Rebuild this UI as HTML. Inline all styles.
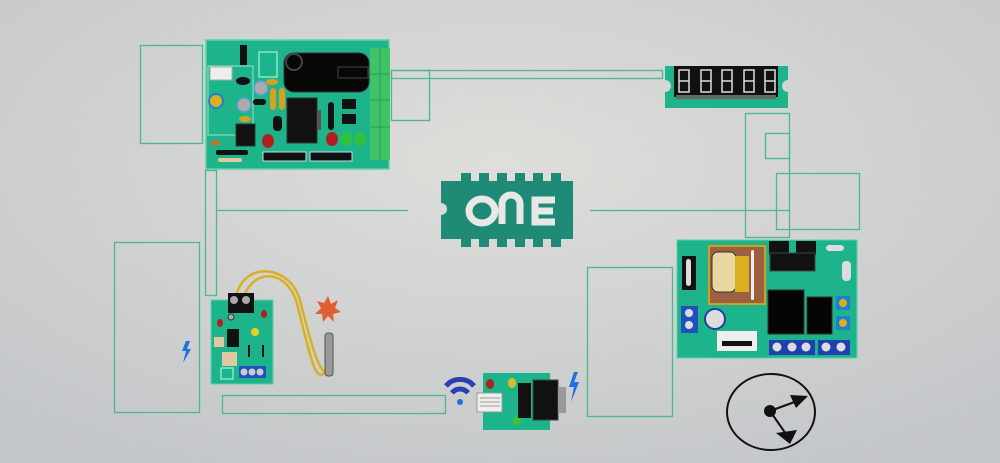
<!DOCTYPE html>
<html><head><meta charset="utf-8"><style>
html,body{margin:0;padding:0;width:1000px;height:463px;overflow:hidden}
svg{display:block}
</style></head><body>
<svg width="1000" height="463" viewBox="0 0 1000 463" xmlns="http://www.w3.org/2000/svg">
<defs>
<radialGradient id="bg" cx="0.5" cy="0.35" r="0.75">
<stop offset="0" stop-color="#dededa"/><stop offset="1" stop-color="#c3c6c9"/>
</radialGradient>
</defs>
<rect width="1000" height="463" fill="url(#bg)"/>
<g fill="none" stroke="#4cb890" stroke-width="1.3">
<rect x="140.5" y="45.5" width="62" height="98"/>
<rect x="391.5" y="70.5" width="271" height="8"/>
<rect x="391.5" y="70.5" width="38" height="50"/>
<rect x="205.5" y="170.5" width="11" height="125"/>
<line x1="216" y1="210.5" x2="408" y2="210.5"/>
<line x1="590" y1="210.5" x2="790" y2="210.5"/>
<rect x="745.5" y="113.5" width="44" height="124"/>
<rect x="765.5" y="133.5" width="24" height="25"/>
<rect x="776.5" y="173.5" width="83" height="56"/>
<rect x="114.5" y="242.5" width="85" height="170"/>
<rect x="222.5" y="395.5" width="223" height="18"/>
<rect x="587.5" y="267.5" width="85" height="149"/>
</g>

<!-- Board 1 -->
<rect x="206" y="40" width="183" height="129" fill="#1db48c" stroke="#5fd0ac" stroke-width="1.5"/>
<rect x="370" y="48" width="20" height="112" fill="#3fc26a"/>
<g stroke="#2aa050" stroke-width="1"><line x1="380" y1="48" x2="380" y2="160"/><line x1="370" y1="74" x2="390" y2="74"/><line x1="370" y1="100" x2="390" y2="100"/><line x1="370" y1="127" x2="390" y2="127"/></g>
<rect x="284" y="53" width="85" height="39" rx="10" fill="#070707" stroke="#333"/>
<circle cx="294" cy="62" r="8" fill="none" stroke="#444" stroke-width="2"/>
<rect x="338" y="67" width="30" height="11" fill="none" stroke="#444"/>
<rect x="240" y="45" width="7" height="20" fill="#111"/>
<rect x="259" y="52" width="18" height="25" fill="none" stroke="#bfe"/>
<rect x="208" y="66" width="45" height="69" fill="none" stroke="#9de0c8"/>
<rect x="210" y="67" width="22" height="13" fill="#eee" stroke="#aaa"/>
<ellipse cx="243" cy="81" rx="7" ry="4" fill="#111"/>
<circle cx="216" cy="101" r="7" fill="#d8b020" stroke="#2080d0" stroke-width="2"/>
<circle cx="261" cy="88" r="7" fill="#aaa" stroke="#50a0d0" stroke-width="1.5"/>
<circle cx="244" cy="105" r="7" fill="#aaa" stroke="#50a0d0" stroke-width="1.5"/>
<ellipse cx="272" cy="82" rx="6" ry="3" fill="#d8a020"/>
<ellipse cx="245" cy="119" rx="6" ry="3" fill="#d8a020"/>
<rect x="253" y="99" width="13" height="6" rx="3" fill="#111"/>
<rect x="270" y="88" width="6" height="22" rx="3" fill="#d8a020"/><rect x="279" y="88" width="6" height="22" rx="3" fill="#d8a020"/>
<rect x="236" y="124" width="19" height="22" fill="#111" stroke="#333"/>
<rect x="273" y="116" width="9" height="15" rx="4" fill="#111"/>
<rect x="287" y="98" width="30" height="45" fill="#111" stroke="#333"/>
<rect x="317" y="110" width="4" height="20" fill="#555"/>
<rect x="328" y="102" width="6" height="28" rx="3" fill="#111"/>
<rect x="342" y="99" width="14" height="10" fill="#111"/><rect x="342" y="114" width="14" height="10" fill="#111"/>
<ellipse cx="268" cy="141" rx="6" ry="7" fill="#b02020"/>
<ellipse cx="332" cy="139" rx="6" ry="7" fill="#b02020"/>
<ellipse cx="346" cy="139" rx="6" ry="7" fill="#30c040"/><ellipse cx="360" cy="139" rx="6" ry="7" fill="#30c040"/>
<rect x="211" y="141" width="9" height="4" fill="#d07020"/>
<rect x="216" y="150" width="32" height="5" rx="2" fill="#111"/>
<rect x="218" y="158" width="24" height="4" rx="2" fill="#e0c8a0"/>
<rect x="263" y="152" width="43" height="9" fill="#111" stroke="#cde"/>
<rect x="310" y="152" width="42" height="9" fill="#111" stroke="#cde"/>

<!-- 7 segment -->
<path d="M665 66 H788 V80 A6 6 0 0 0 788 92 V108 H665 V92 A6 6 0 0 0 665 80 Z" fill="#1db48c"/>
<rect x="674" y="66" width="104" height="31" fill="#111"/>
<rect x="676" y="95" width="100" height="4" fill="#666"/>
<g fill="none" stroke="#ddd" stroke-width="1.5">
<rect x="679" y="70" width="10" height="22"/><line x1="679" y1="81" x2="689" y2="81"/>
<rect x="701" y="70" width="10" height="22"/><line x1="701" y1="81" x2="711" y2="81"/>
<rect x="722" y="70" width="10" height="22"/><line x1="722" y1="81" x2="732" y2="81"/>
<rect x="744" y="70" width="10" height="22"/><line x1="744" y1="81" x2="754" y2="81"/>
<rect x="765" y="70" width="10" height="22"/><line x1="765" y1="81" x2="775" y2="81"/>
</g>

<!-- ONE logo -->
<path d="M461 173h10v8h8v-8h10v8h8v-8h10v8h8v-8h10v8h8v-8h10v8h8v-8h10v8h12v58h-12v8h-10v-8h-8v8h-10v-8h-8v8h-10v-8h-8v8h-10v-8h-8v8h-10v-8h-8v8h-10v-8h-20v-24a6 6 0 0 0 0-12v-22h20z" fill="#1f8a76"/>
<ellipse cx="482" cy="211" rx="13" ry="12" fill="none" stroke="#e8e8e6" stroke-width="7"/>
<path d="M502 224v-20a9 9 0 0 1 18 0v20" fill="none" stroke="#e8e8e6" stroke-width="7"/>
<path d="M555 200h-20v22h20M535 211h18" fill="none" stroke="#e8e8e6" stroke-width="7"/>

<!-- Right board -->
<rect x="677" y="240" width="180" height="118" fill="#1db48c" stroke="#5fd0ac"/>
<rect x="709" y="246" width="56" height="58" fill="#9a6040" stroke="#d0a020" stroke-width="2"/>
<rect x="712" y="252" width="24" height="40" rx="6" fill="#e8d8a0" stroke="#333"/>
<rect x="735" y="256" width="14" height="36" fill="#d8b020"/>
<rect x="751" y="250" width="3" height="50" rx="1.5" fill="#eee"/>
<rect x="682" y="256" width="14" height="34" fill="#111"/><rect x="686" y="259" width="5" height="27" rx="2.5" fill="#ddd"/>
<rect x="769" y="241" width="20" height="14" fill="#111"/><rect x="796" y="241" width="20" height="14" fill="#111"/>
<rect x="770" y="253" width="45" height="18" fill="#111" stroke="#444"/>
<rect x="826" y="245" width="18" height="6" rx="3" fill="#ddd"/>
<rect x="842" y="261" width="9" height="20" rx="4" fill="#ddd"/>
<rect x="681" y="306" width="17" height="27" fill="#2050c0"/><circle cx="689" cy="313" r="4" fill="#ddd"/><circle cx="689" cy="325" r="4" fill="#ddd"/>
<circle cx="715" cy="319" r="10" fill="#ddd" stroke="#2040a0" stroke-width="2"/>
<rect x="717" y="331" width="40" height="20" fill="#eee"/><rect x="722" y="341" width="30" height="5" fill="#111"/>
<rect x="768" y="290" width="36" height="44" fill="#050505" stroke="#333"/>
<rect x="807" y="297" width="25" height="37" fill="#050505" stroke="#333"/>
<rect x="836" y="296" width="14" height="14" fill="#2080d0"/><circle cx="843" cy="303" r="4" fill="#d8b020"/>
<rect x="836" y="316" width="14" height="14" fill="#2080d0"/><circle cx="843" cy="323" r="4" fill="#d8b020"/>
<rect x="769" y="340" width="46" height="15" fill="#2040b0"/><circle cx="777" cy="347" r="4.5" fill="#ddd"/><circle cx="792" cy="347" r="4.5" fill="#ddd"/><circle cx="806" cy="347" r="4.5" fill="#ddd"/>
<rect x="818" y="340" width="32" height="15" fill="#2040b0"/><circle cx="826" cy="347" r="4.5" fill="#ddd"/><circle cx="841" cy="347" r="4.5" fill="#ddd"/>

<!-- small board left -->
<rect x="211" y="300" width="62" height="84" fill="#1db48c" stroke="#5fd0ac"/>
<path d="M236 296 C245 260 290 265 300 300 C310 340 320 380 330 372 M244 296 C255 268 285 270 296 300 C308 345 315 390 326 370" fill="none" stroke="#d8b020" stroke-width="2.5"/>
<rect x="228" y="293" width="26" height="20" fill="#111"/><circle cx="234" cy="300" r="4" fill="#aaa"/><circle cx="246" cy="300" r="4" fill="#aaa"/>
<ellipse cx="220" cy="323" rx="3" ry="4" fill="#b02020"/><ellipse cx="264" cy="314" rx="3" ry="4" fill="#b02020"/>
<circle cx="231" cy="317" r="3" fill="#aaa" stroke="#333"/>
<rect x="227" y="329" width="12" height="18" fill="#111"/>
<circle cx="255" cy="332" r="4" fill="#e8d020"/>
<rect x="214" y="337" width="10" height="10" fill="#e0c8a0"/>
<rect x="222" y="352" width="15" height="14" fill="#e0c8a0"/>
<rect x="248" y="345" width="2" height="12" fill="#111"/><rect x="262" y="345" width="2" height="12" fill="#111"/>
<rect x="239" y="366" width="27" height="12" fill="#2050c0"/><circle cx="244" cy="372" r="3.5" fill="#ccc"/><circle cx="252" cy="372" r="3.5" fill="#ccc"/><circle cx="260" cy="372" r="3.5" fill="#ccc"/>
<rect x="221" y="368" width="12" height="11" fill="none" stroke="#bfe"/>
<rect x="325" y="333" width="8" height="43" rx="3" fill="#999" stroke="#555"/>
<path d="M328 296l3 8 7-4-3 8 6 4-8 2 1 8-6-6-5 6-1-8-7 0 6-6-4-7 7 2z" fill="#e06030"/>
<path d="M186 341l-4 10h4l-3 12 8-14h-4l3-8z" fill="#2070e0"/>

<!-- wifi board -->
<rect x="483" y="373" width="67" height="57" fill="#1db48c"/>
<rect x="477" y="393" width="25" height="19" fill="#eee" stroke="#999"/>
<g stroke="#999"><line x1="480" y1="398" x2="500" y2="398"/><line x1="480" y1="402" x2="500" y2="402"/><line x1="480" y1="406" x2="500" y2="406"/></g>
<ellipse cx="490" cy="384" rx="4" ry="5" fill="#b02020"/><ellipse cx="512" cy="383" rx="4" ry="5" fill="#d8c020"/><ellipse cx="517" cy="421" rx="4" ry="5" fill="#40c040"/>
<rect x="518" y="383" width="13" height="35" fill="#111"/>
<rect x="533" y="380" width="25" height="40" fill="#111" stroke="#444"/>
<rect x="558" y="387" width="8" height="26" fill="#999"/>
<path d="M446 386a18 18 0 0 1 28 0" fill="none" stroke="#2840b0" stroke-width="5"/>
<path d="M452 393a10 10 0 0 1 16 0" fill="none" stroke="#2840b0" stroke-width="5"/>
<circle cx="460" cy="402" r="3" fill="#2070e0"/>
<path d="M574 372l-5 15h5l-3 15 8-20h-5l4-10z" fill="#2070e0"/>

<!-- circle icon -->
<ellipse cx="771" cy="412" rx="44" ry="38" fill="none" stroke="#111" stroke-width="2"/>
<circle cx="770" cy="411" r="6" fill="#111"/>
<line x1="770" y1="411" x2="800" y2="400" stroke="#111" stroke-width="2"/>
<path d="M808 396l-18-1 6 13z" fill="#111"/>
<line x1="770" y1="411" x2="786" y2="434" stroke="#111" stroke-width="2"/>
<path d="M797 430l-21 3 14 11z" fill="#111"/>
</svg>
</body></html>
